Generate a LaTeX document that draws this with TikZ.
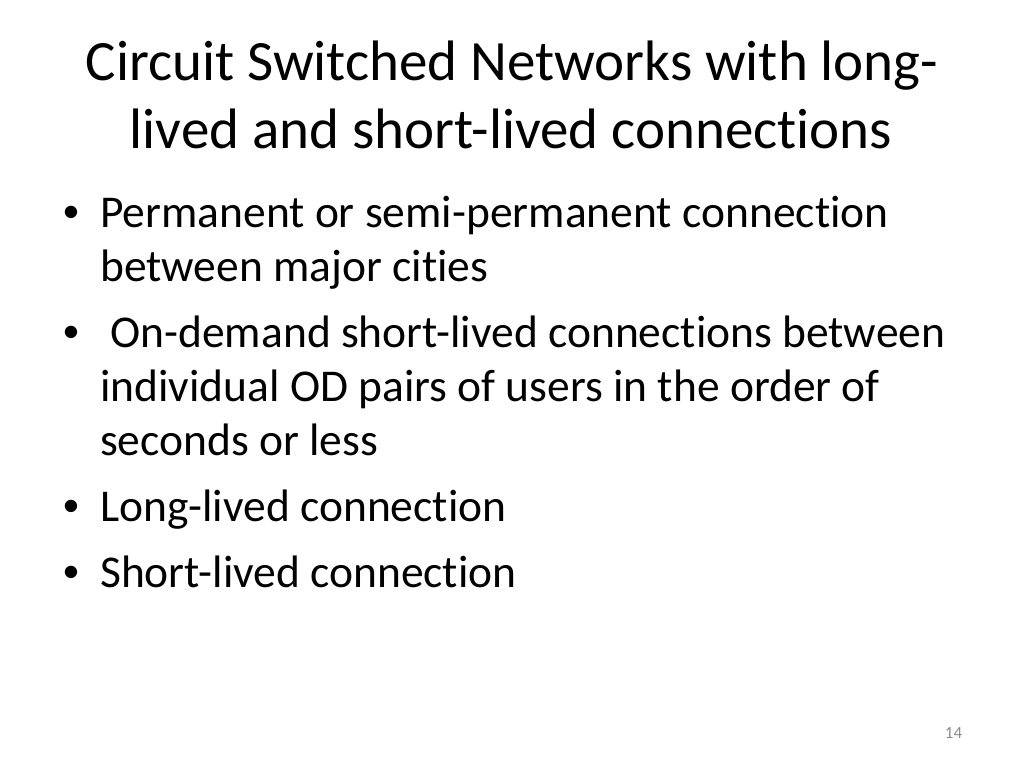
\documentclass[tikz,border=0pt]{standalone}
\usepackage{fontspec}
\setmainfont{Carlito}[Ligatures=NoCommon]
\newfontfamily\bulletfont{Liberation Sans}
\definecolor{pagegray}{HTML}{8B8B8B}
\begin{document}
\begin{tikzpicture}[x=1pt,y=-1pt,
  titletext/.style={anchor=base,inner sep=0pt,font=\fontsize{57}{68}\selectfont},
  bodytext/.style={anchor=base west,inner sep=0pt,font=\fontsize{45.5}{54}\selectfont},
  bulletmark/.style={anchor=base west,inner sep=0pt,font=\bulletfont\fontsize{45.5}{54}\selectfont}]
\useasboundingbox[fill=white] (0,0) rectangle (1024,768);
\node[titletext] (t1) at (512,80) {Circuit Switched Networks with long-};
\node[titletext] (t2) at (511,148) {lived and short-lived connections};
\node[bulletmark] (b1) at (63,227) {•};
\node[bodytext] (l1) at (100,227) {Permanent or semi-permanent connection};
\node[bodytext] (l2) at (100,281) {between major cities};
\node[bulletmark] (b2) at (63,347) {•};
\node[bodytext] (l3) at (100,347) {\ On-demand short-lived connections between};
\node[bodytext] (l4) at (100,401) {individual OD pairs of users in the order of};
\node[bodytext] (l5) at (100,455) {seconds or less};
\node[bulletmark] (b3) at (63,521) {•};
\node[bodytext] (l6) at (100,521) {Long-lived connection};
\node[bulletmark] (b4) at (63,587) {•};
\node[bodytext] (l7) at (100,587) {Short-lived connection};
\node[anchor=base,inner sep=0pt,text=pagegray,font=\fontsize{17}{20}\selectfont] (pg) at (953.5,738) {14};
\end{tikzpicture}
\end{document}
